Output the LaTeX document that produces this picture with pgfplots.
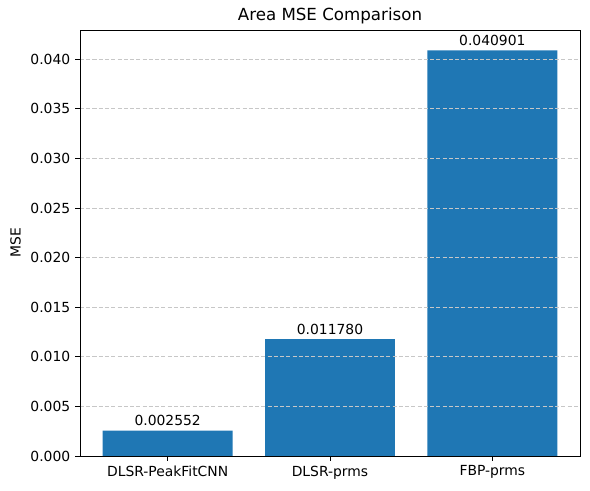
\documentclass[border=0pt]{standalone}
\usepackage{pgfplots}
\pgfplotsset{compat=1.18}
\usepackage{fontspec}
\setmainfont{DejaVu Sans}
\definecolor{mplblue}{HTML}{1F77B4}
\begin{document}
\begin{tikzpicture}[x=1pt,y=1pt]
\begin{axis}[
  scale only axis,
  width=360pt, height=306.7pt,
  ybar, bar width=0.8, bar shift=0pt,
  xmin=-0.54, xmax=2.54,
  ymin=0, ymax=0.042946,
  xtick=data,
  xticklabels={DLSR-PeakFitCNN,DLSR-prms,FBP-prms},
  ytick={0,0.005,0.01,0.015,0.02,0.025,0.03,0.035,0.04},
  scaled y ticks=false,
  yticklabel style={/pgf/number format/.cd,fixed,fixed zerofill,precision=3},
  /pgf/number format/assume math mode=true,
  tick align=outside, tick pos=left,
  major tick length=3.5pt,
  ymajorgrids,
  grid style={dash pattern=on 3pt off 1.5pt, black!22, line width=0.6pt},
  axis line style={line width=0.6pt},
  every tick/.style={black, line width=0.6pt},
  tick label style={font=\fontsize{10}{12}\selectfont},
  ylabel={MSE},
  ylabel style={font=\fontsize{10}{12}\selectfont},
  title={Area MSE Comparison},
  title style={font=\fontsize{12}{14}\selectfont, yshift=-5pt},
  nodes near coords,
  nodes near coords style={font=\fontsize{10}{12}\selectfont, black, yshift=-0.3pt,
     /pgf/number format/.cd, fixed, fixed zerofill, precision=6, assume math mode=true},
  axis on top=true,
]
\addplot[fill=mplblue, draw=none] coordinates {(0,0.002552) (1,0.011780) (2,0.040901)};
\coordinate (sw) at (rel axis cs:0,0);
\coordinate (ne) at (rel axis cs:1,1);
\end{axis}
\path (sw) ++(-57.6pt,-24.5pt) coordinate (bsw);
\path (ne) ++(7.2pt,21.6pt) coordinate (bne);
\path (bsw) rectangle (bne);
\end{tikzpicture}
\end{document}
